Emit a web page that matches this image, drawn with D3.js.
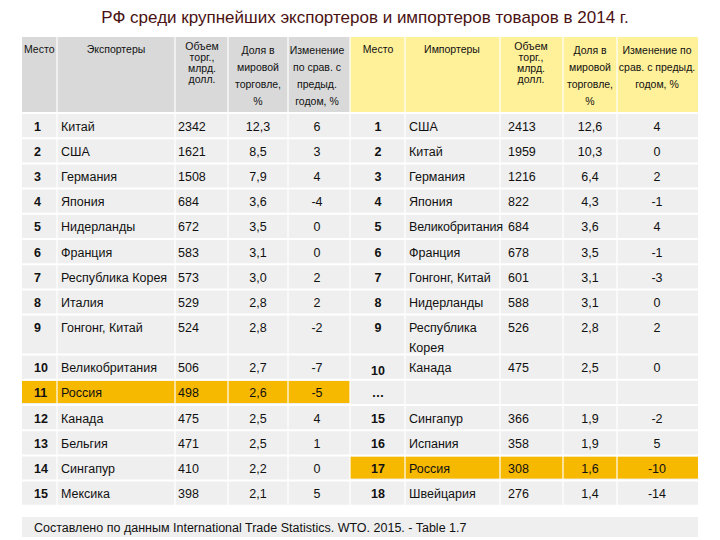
<!DOCTYPE html>
<html><head><meta charset="utf-8">
<script src="https://cdn.jsdelivr.net/npm/d3@7"></script>
<style>body{margin:0;background:#fff}text{font-family:"Liberation Sans",Arial,sans-serif}</style>
</head><body><svg id="c" width="720" height="540"></svg>
<script>
const title = "РФ среди крупнейших экспортеров и импортеров товаров в 2014 г.";
const expRank = [1,2,3,4,5,6,7,8,9,10,11,12,13,14,15];
const exporters = ["Китай","США","Германия","Япония","Нидерланды","Франция","Республика Корея","Италия","Гонгонг, Китай","Великобритания","Россия","Канада","Бельгия","Сингапур","Мексика"];
const expVol = [2342,1621,1508,684,672,583,573,529,524,506,498,475,471,410,398];
const expShare = ["12,3","8,5","7,9","3,6","3,5","3,1","3,0","2,8","2,8","2,7","2,6","2,5","2,5","2,2","2,1"];
const expChange = [6,3,4,-4,0,0,2,2,-2,-7,-5,4,1,0,5];
const impRank = ["1","2","3","4","5","6","7","8","9","10","…","15","16","17","18"];
const importers = ["США","Китай","Германия","Япония","Великобритания","Франция","Гонгонг, Китай","Нидерланды","Республика\nКорея","Канада","","Сингапур","Испания","Россия","Швейцария"];
const impVol = [2413,1959,1216,822,684,678,601,588,526,475,null,366,358,308,276];
const impShare = ["12,6","10,3","6,4","4,3","3,6","3,5","3,1","3,1","2,8","2,5","","1,9","1,9","1,6","1,4"];
const impChange = [4,0,2,-1,4,-1,-3,0,2,0,null,-2,5,-10,-14];
const footnote = "Составлено по данным International Trade Statistics. WTO. 2015. - Table 1.7";

const svg = d3.select("#c");
svg.append("text").attr("x",365).attr("y",23).attr("text-anchor","middle")
  .attr("font-size",17).attr("fill","#4a1212").text(title);

const cols = [22,57,175,228,288,350,405,500,563,617,698];
const rowH = expRank.map((d,i)=> i===8 ? 40 : 25.2);
const rowTop = [113]; rowH.forEach((h,i)=>rowTop.push(rowTop[i]+h));
const tableBottom = rowTop[rowTop.length-1];

svg.append("rect").attr("x",22).attr("y",37).attr("width",328).attr("height",76).attr("fill","#d9d9d9");
svg.append("rect").attr("x",350).attr("y",37).attr("width",348).attr("height",76).attr("fill","#fff09a");
svg.append("rect").attr("x",22).attr("y",113).attr("width",676).attr("height",tableBottom-113).attr("fill","#efefef");
const ruE = exporters.indexOf("Россия"), ruI = importers.indexOf("Россия");
svg.append("rect").attr("x",22).attr("y",rowTop[ruE]+1).attr("width",328).attr("height",rowH[ruE]-3).attr("fill","#f7b800");
svg.append("rect").attr("x",350).attr("y",rowTop[ruI]+1).attr("width",348).attr("height",rowH[ruI]-3).attr("fill","#f7b800");
rowTop.forEach(y=>svg.append("line").attr("x1",22).attr("x2",698).attr("y1",y).attr("y2",y).attr("stroke","#fff").attr("stroke-width",2));
cols.slice(1,-1).forEach(x=>svg.append("line").attr("x1",x).attr("x2",x).attr("y1",37).attr("y2",tableBottom).attr("stroke","#fff").attr("stroke-width",1.2));
svg.append("rect").attr("x",22).attr("y",517).attr("width",676).attr("height",20).attr("fill","#efefef");

function multi(x,y,lines,anchor,size,lh){
  const t=svg.append("text").attr("x",x).attr("y",y).attr("text-anchor",anchor).attr("font-size",size).attr("fill","#111");
  lines.forEach((l,i)=>t.append("tspan").attr("x",x).attr("dy",i?lh:0).text(l));
  return t;
}
multi(24,53,["Место"],"start",10.5,0);
multi(116,53,["Экспортеры"],"middle",10.5,0);
multi(202,50,["Объем","торг.,","млрд.","долл."],"middle",10.5,11);
multi(258,54,["Доля в","мировой","торговле,","%"],"middle",10.5,17);
multi(317,54,["Изменение","по срав. с","предыд.","годом, %"],"middle",10.5,17);
multi(378,53,["Место"],"middle",10.5,0);
multi(452,53,["Импортеры"],"middle",10.5,0);
multi(531,50,["Объем","торг.,","млрд.","долл."],"middle",10.5,11);
multi(590,54,["Доля в","мировой","торговле,","%"],"middle",10.5,17);
multi(657,54,["Изменение по","срав. с предыд.","годом, %"],"middle",10.5,17);

expRank.forEach((r,i)=>{
  const y = rowTop[i] + (i===8 ? 17 : rowH[i]/2+5);
  const g = svg.append("g").attr("font-size",12.5).attr("fill","#111");
  g.append("text").attr("x",34).attr("y",y).attr("font-weight","bold").text(r);
  g.append("text").attr("x",61).attr("y",y).text(exporters[i]);
  g.append("text").attr("x",178).attr("y",y).text(expVol[i]);
  g.append("text").attr("x",258).attr("y",y).attr("text-anchor","middle").text(expShare[i]);
  g.append("text").attr("x",317).attr("y",y).attr("text-anchor","middle").text(expChange[i]);
  g.append("text").attr("x",378).attr("y",i===9?y+3:y).attr("text-anchor","middle").attr("font-weight","bold").text(impRank[i]);
  const lines = importers[i].split("\n");
  const t = g.append("text").attr("x",409).attr("y",y).attr("textLength", importers[i]==="Великобритания"?94:null);
  lines.forEach((l,k)=>t.append("tspan").attr("x",409).attr("dy",k?20:0).text(l));
  g.append("text").attr("x",508).attr("y",y).text(impVol[i]===null?"":impVol[i]);
  g.append("text").attr("x",590).attr("y",y).attr("text-anchor","middle").text(impShare[i]);
  g.append("text").attr("x",657).attr("y",y).attr("text-anchor","middle").text(impChange[i]===null?"":impChange[i]);
});
svg.append("text").attr("x",34).attr("y",532).attr("font-size",12.5).attr("fill","#111").text(footnote);
</script></body></html>
